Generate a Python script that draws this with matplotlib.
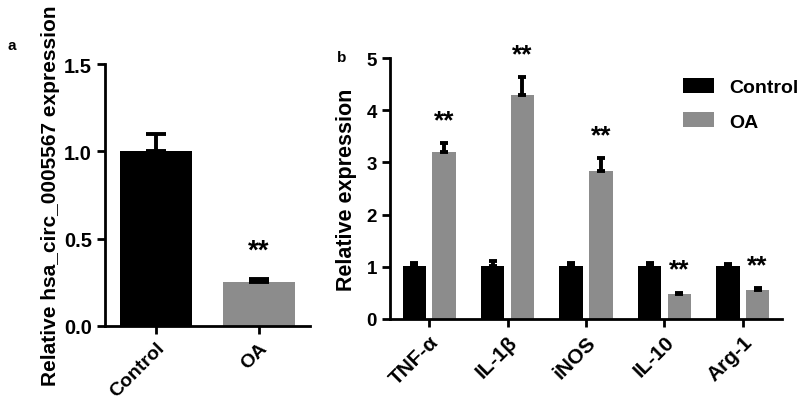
import numpy as np
import matplotlib
matplotlib.use('Agg')
import matplotlib.pyplot as plt
from matplotlib.patches import FancyBboxPatch
from matplotlib.legend_handler import HandlerPatch

plt.rcParams['font.family'] = ['Liberation Sans', 'DejaVu Sans']
plt.rcParams['font.weight'] = 'bold'

# panel a data
a_groups = ['Control', 'OA']
a_mean = [1.0, 0.25]
a_err = [0.10, 0.02]
a_sig = ['', '**']

# panel b data
b_genes = ['TNF-α', 'IL-1β', 'iNOS', 'IL-10', 'Arg-1']
b_ctrl = [1.01, 1.01, 1.01, 1.01, 1.01]
b_ctrl_err = [0.07, 0.10, 0.06, 0.07, 0.04]
b_oa = [3.20, 4.30, 2.83, 0.47, 0.56]
b_oa_err = [0.17, 0.33, 0.25, 0.03, 0.03]
b_sig = ['**', '**', '**', '**', '**']

black = '#000000'
grey = '#8c8c8c'


class RoundBox(HandlerPatch):
    # legend key drawn as a rounded box
    def create_artists(self, legend, orig_handle, xdescent, ydescent,
                       width, height, fontsize, trans):
        p = FancyBboxPatch((-xdescent, -ydescent), width, height,
                           boxstyle='round,pad=0,rounding_size=%f' % (height * 0.25),
                           facecolor=orig_handle.get_facecolor(), edgecolor='none',
                           transform=trans)
        return [p]


fig = plt.figure(figsize=(8, 4.02), dpi=100)

def style_axis(ax):
    for s in ['top', 'right']:
        ax.spines[s].set_visible(False)
    for s in ['left', 'bottom']:
        ax.spines[s].set_linewidth(2)
    ax.tick_params(width=2, length=6)

#### panel a ####
axa = fig.add_axes([0.13125, 0.1866, 0.25625, 0.6517])
xa = np.arange(len(a_groups))
axa.bar(xa, a_mean, width=0.7, color=[black, grey])
axa.errorbar(xa, a_mean, yerr=[np.zeros(2), a_err], fmt='none', ecolor=black,
             elinewidth=2.8, capsize=7, capthick=2.8)
for x, m, e, s in zip(xa, a_mean, a_err, a_sig):
    if s:
        axa.annotate(s, (x, m + e), xytext=(0, 11), textcoords='offset points',
                     ha='center', va='bottom', fontsize=20, fontweight='bold')
axa.set_xlim(-0.5, 1.5)
axa.set_ylim(0, 1.5)
axa.set_yticks([0, 0.5, 1.0, 1.5])
axa.set_yticklabels(['0.0', '0.5', '1.0', '1.5'], fontsize=14.5, fontweight='bold')
axa.set_xticks(xa)
axa.set_xticklabels(a_groups, rotation=45, ha='right', rotation_mode='anchor',
                    fontsize=14, fontweight='bold')
axa.set_ylabel('Relative hsa_circ_0005567 expression', fontsize=15, fontweight='bold',
               labelpad=3)
style_axis(axa)
fig.text(0.010, 0.876, 'a', fontsize=11, fontweight='bold')

#### panel b ####
axb = fig.add_axes([0.4875, 0.204, 0.49, 0.649])
xb = np.arange(len(b_genes))
off = 0.19
w = 0.3
axb.bar(xb - off, b_ctrl, width=w, color=black, label='Control')
axb.bar(xb + off, b_oa, width=w, color=grey, label='OA')
axb.errorbar(xb - off, b_ctrl, yerr=[np.zeros(5), b_ctrl_err], fmt='none', ecolor=black,
             elinewidth=2.8, capsize=3, capthick=2.8)
axb.errorbar(xb + off, b_oa, yerr=[np.zeros(5), b_oa_err], fmt='none', ecolor=black,
             elinewidth=2.8, capsize=3, capthick=2.8)
for x, m, e, s in zip(xb, b_oa, b_oa_err, b_sig):
    axb.annotate(s, (x + off, m + e), xytext=(0, 8), textcoords='offset points',
                 ha='center', va='bottom', fontsize=19, fontweight='bold')
axb.set_xlim(-0.5, 4.5)
axb.set_ylim(0, 5)
axb.set_yticks(range(6))
axb.set_yticklabels([str(i) for i in range(6)], fontsize=13.5, fontweight='bold')
axb.set_xticks(xb)
axb.set_xticklabels(b_genes, rotation=45, ha='right', rotation_mode='anchor',
                    fontsize=15, fontweight='bold')
axb.set_ylabel('Relative expression', fontsize=15.5, fontweight='bold', labelpad=7)
style_axis(axb)
leg = axb.legend(loc='upper left', bbox_to_anchor=(0.747, 0.925), frameon=False,
                 borderpad=0, borderaxespad=0,
                 handlelength=1.6, handleheight=0.8, handletextpad=0.8,
                 labelspacing=0.85, prop={'weight': 'bold', 'size': 14},
                 handler_map={matplotlib.patches.Rectangle: RoundBox()})
fig.text(0.421, 0.846, 'b', fontsize=11, fontweight='bold')

fig.savefig('out.png', dpi=100)
